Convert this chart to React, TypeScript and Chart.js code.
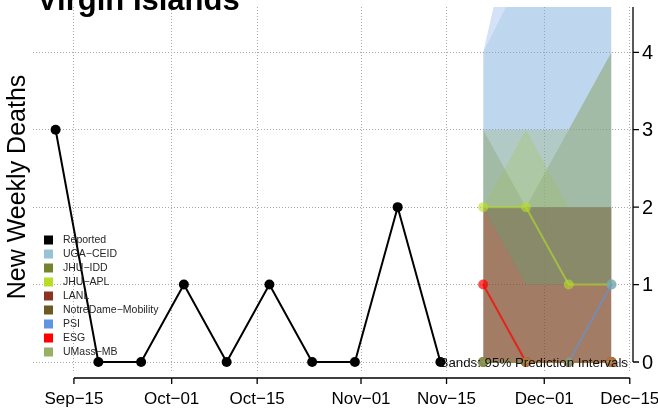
import React, { useEffect, useRef } from "react";
import { Chart, registerables } from "chart.js";

Chart.register(...registerables);

// ---------- text ----------
const TITLE = "Virgin Islands";
const Y_LABEL = "New Weekly Deaths";
const BAND_NOTE = "Bands: 95% Prediction Intervals";

// ---------- axes ----------
const ORIGIN_DATE = "2020-09-15";
const X_MIN_DAY = -6.7;
const X_MAX_DAY = 91.2;
const Y_MIN = -0.142;
const Y_MAX = 4.585;
const X_TICK_DATES = ["2020-09-15", "2020-10-01", "2020-10-15", "2020-11-01", "2020-11-15", "2020-12-01", "2020-12-15"];
const X_TICK_LABELS = ["Sep−15", "Oct−01", "Oct−15", "Nov−01", "Nov−15", "Dec−01", "Dec−15"];
const Y_TICKS = [0, 1, 2, 3, 4];

// ---------- reported ----------
const REPORTED_DATES = [
  "2020-09-12", "2020-09-19", "2020-09-26", "2020-10-03", "2020-10-10",
  "2020-10-17", "2020-10-24", "2020-10-31", "2020-11-07", "2020-11-14",
];
const REPORTED_VALUES = [3, 0, 0, 1, 0, 1, 0, 0, 2, 0];

// ---------- forecasts ----------
const FORECAST_DATES = ["2020-11-21", "2020-11-28", "2020-12-05", "2020-12-12"];

const MODEL_NAMES = ["UGA−CEID", "JHU−IDD", "JHU−APL", "LANL", "NotreDame−Mobility", "PSI", "ESG", "UMass−MB"];
const MODEL_COLORS = ["#96C4D4", "#74842E", "#B8DD26", "#8B3424", "#6C5A22", "#5E94E2", "#FF0000", "#98B066"];

const UGA_CEID_POINT = [0, 0, 0, 0];
const UGA_CEID_LOWER = [2, 1, 1, 1];
const UGA_CEID_UPPER = [4, 5.1, 7, 8];

const JHU_IDD_POINT = [0, 0, 0, 0];
const JHU_IDD_LOWER = [2, 1, 1, 1];
const JHU_IDD_UPPER = [3, 2, 3, 4];

const JHU_APL_POINT = [2, 2, 1, 1];
const JHU_APL_LOWER = [2, 1, 1, 1];
const JHU_APL_UPPER = [2, 3, 2, 2];

const LANL_POINT = [0, 0, 0, 0];
const LANL_LOWER = [0, 0, 0, 0];
const LANL_UPPER = [2, 2, 2, 2];

const NOTREDAME_POINT = [0, 0, 0, 0];
const NOTREDAME_LOWER = [0, 0, 0, 0];
const NOTREDAME_UPPER = [2, 2, 2, 2];

const PSI_POINT = [null, null, 0, 1];
const PSI_LOWER = [2, 1, 1, 1];
const PSI_UPPER = [4, 6.4, 9, 10];

const ESG_POINT = [1, 0, 0, 0];

const UMASS_MB_POINT = [0, 0, 0, 0];
const UMASS_MB_LOWER = [2, 1, 1, 1];
const UMASS_MB_UPPER = [3, 3, 3, 4];

// ---------- helpers ----------
const FONT = '"Liberation Sans", Arial, Helvetica, sans-serif';
const dayOf = (d: string) => (Date.parse(d) - Date.parse(ORIGIN_DATE)) / 86400000;

function rgba(hex: string, a: number) {
  const n = parseInt(hex.slice(1), 16);
  return `rgba(${(n >> 16) & 255},${(n >> 8) & 255},${n & 255},${a})`;
}

function series(dates: string[], values: (number | null)[]) {
  return dates.map((d, i) => ({ x: dayOf(d), y: values[i] }));
}

function bandPair(label: string, color: string, lower: number[], upper: number[], alpha: number, order: number) {
  const common = {
    borderColor: "rgba(0,0,0,0)",
    borderWidth: 0,
    pointRadius: 0,
    pointHoverRadius: 0,
    order,
  };
  return [
    { ...common, label: label + " lower", data: series(FORECAST_DATES, lower), fill: false },
    { ...common, label: label + " upper", data: series(FORECAST_DATES, upper), fill: "-1", backgroundColor: rgba(color, alpha) },
  ];
}

function forecastLine(label: string, color: string, values: (number | null)[], alpha: number, order: number) {
  return {
    label,
    data: series(FORECAST_DATES, values),
    borderColor: rgba(color, alpha),
    backgroundColor: rgba(color, alpha),
    pointBackgroundColor: rgba(color, alpha),
    pointBorderWidth: 0,
    pointRadius: 5,
    borderWidth: 2,
    borderCapStyle: "round",
    borderJoinStyle: "round",
    fill: false,
    order,
  };
}

const decorPlugin = {
  id: "decor",
  afterDraw(chart: any) {
    const { ctx, chartArea, scales } = chart;
    const xs = scales.x;
    const ys = scales.y;
    ctx.save();
    ctx.fillStyle = "#000";
    ctx.strokeStyle = "#000";
    ctx.lineWidth = 1.3;
    ctx.lineCap = "butt";

    // bottom axis
    const tickDays = X_TICK_DATES.map(dayOf);
    const axisY = chartArea.bottom + 5;
    ctx.beginPath();
    ctx.moveTo(xs.getPixelForValue(tickDays[0]), axisY);
    ctx.lineTo(xs.getPixelForValue(tickDays[tickDays.length - 1]), axisY);
    tickDays.forEach((d) => {
      const px = xs.getPixelForValue(d);
      ctx.moveTo(px, axisY);
      ctx.lineTo(px, axisY + 6);
    });
    ctx.stroke();
    ctx.font = `17px ${FONT}`;
    ctx.textAlign = "center";
    ctx.textBaseline = "middle";
    tickDays.forEach((d, i) => ctx.fillText(X_TICK_LABELS[i], xs.getPixelForValue(d), axisY + 21));

    // right axis
    const axisX = chartArea.right + 2;
    ctx.beginPath();
    ctx.moveTo(axisX, ys.getPixelForValue(Y_TICKS[0]));
    ctx.lineTo(axisX, chartArea.top);
    Y_TICKS.forEach((v) => {
      const py = ys.getPixelForValue(v);
      ctx.moveTo(axisX, py);
      ctx.lineTo(axisX + 6, py);
    });
    ctx.stroke();
    ctx.font = `20px ${FONT}`;
    ctx.textAlign = "left";
    Y_TICKS.forEach((v) => ctx.fillText(String(v), axisX + 9, ys.getPixelForValue(v) + 1));

    // title
    ctx.font = `bold 31px ${FONT}`;
    ctx.textAlign = "left";
    ctx.textBaseline = "alphabetic";
    ctx.fillText(TITLE, 37, 10);

    // y label
    ctx.save();
    ctx.translate(25, 187);
    ctx.rotate(-Math.PI / 2);
    ctx.font = `25px ${FONT}`;
    ctx.textAlign = "center";
    ctx.fillText(Y_LABEL, 0, 0);
    ctx.restore();

    // legend
    const names = ["Reported", ...MODEL_NAMES];
    const cols = ["#000000", ...MODEL_COLORS];
    ctx.font = `10.5px ${FONT}`;
    ctx.textBaseline = "middle";
    names.forEach((n, i) => {
      const cy = 240 + i * 14;
      ctx.fillStyle = cols[i];
      ctx.fillRect(44, cy - 4.5, 9, 9);
      ctx.fillStyle = "#262626";
      ctx.fillText(n, 63, cy + 0.5);
    });

    // band note
    ctx.fillStyle = "#111";
    ctx.font = `13.3px ${FONT}`;
    ctx.textAlign = "right";
    ctx.textBaseline = "alphabetic";
    ctx.fillText(BAND_NOTE, chartArea.right - 3, ys.getPixelForValue(0) + 4.5);
    ctx.restore();
  },
};

export default function App() {
  const ref = useRef<HTMLCanvasElement | null>(null);

  useEffect(() => {
    if (!ref.current) return;
    const BA = 0.27;
    const datasets: any[] = [
      {
        label: "Reported",
        data: series(REPORTED_DATES, REPORTED_VALUES),
        borderColor: "#000",
        backgroundColor: "#000",
        pointBackgroundColor: "#000",
        pointBorderWidth: 0,
        pointRadius: 5,
        borderWidth: 2,
        borderCapStyle: "round",
        borderJoinStyle: "round",
        fill: false,
        order: 0,
      },
      ...bandPair(MODEL_NAMES[0], MODEL_COLORS[0], UGA_CEID_LOWER, UGA_CEID_UPPER, BA, 90),
      ...bandPair(MODEL_NAMES[1], MODEL_COLORS[1], JHU_IDD_LOWER, JHU_IDD_UPPER, 0.3, 89),
      ...bandPair(MODEL_NAMES[2], MODEL_COLORS[2], JHU_APL_LOWER, JHU_APL_UPPER, 0.3, 88),
      ...bandPair(MODEL_NAMES[3], MODEL_COLORS[3], LANL_LOWER, LANL_UPPER, 0.55, 87),
      ...bandPair(MODEL_NAMES[4], MODEL_COLORS[4], NOTREDAME_LOWER, NOTREDAME_UPPER, 0.35, 86),
      ...bandPair(MODEL_NAMES[5], MODEL_COLORS[5], PSI_LOWER, PSI_UPPER, BA, 85),
      ...bandPair(MODEL_NAMES[7], MODEL_COLORS[7], UMASS_MB_LOWER, UMASS_MB_UPPER, 0.3, 83),
      forecastLine(MODEL_NAMES[0], MODEL_COLORS[0], UGA_CEID_POINT, 0.6, 20),
      forecastLine(MODEL_NAMES[1], MODEL_COLORS[1], JHU_IDD_POINT, 0.6, 19),
      forecastLine(MODEL_NAMES[3], MODEL_COLORS[3], LANL_POINT, 0.6, 18),
      forecastLine(MODEL_NAMES[4], MODEL_COLORS[4], NOTREDAME_POINT, 0.6, 17),
      forecastLine(MODEL_NAMES[6], MODEL_COLORS[6], ESG_POINT, 0.7, 16),
      forecastLine(MODEL_NAMES[2], MODEL_COLORS[2], JHU_APL_POINT, 0.6, 15),
      forecastLine(MODEL_NAMES[5], MODEL_COLORS[5], PSI_POINT, 0.6, 14),
      forecastLine(MODEL_NAMES[7], MODEL_COLORS[7], UMASS_MB_POINT, 0.6, 13),
    ];

    const gridCommon = {
      color: "#a8a8a8",
      lineWidth: 1,
      drawTicks: false,
    };

    const chart = new Chart(ref.current, {
      type: "line",
      data: { datasets },
      options: {
        animation: false,
        responsive: false,
        events: [],
        layout: { padding: { left: 33, top: 7, right: 27, bottom: 39 } },
        plugins: {
          legend: { display: false },
          tooltip: { enabled: false },
          filler: { drawTime: "beforeDatasetsDraw" },
        },
        scales: {
          x: {
            type: "linear",
            min: X_MIN_DAY,
            max: X_MAX_DAY,
            ticks: { display: false },
            grid: gridCommon,
            border: { display: false, dash: [1, 2] },
            afterBuildTicks: (s: any) => {
              s.ticks = X_TICK_DATES.map((d) => ({ value: dayOf(d) }));
            },
            afterFit: (s: any) => {
              s.height = 0;
            },
          },
          y: {
            type: "linear",
            position: "right",
            min: Y_MIN,
            max: Y_MAX,
            ticks: { display: false },
            grid: gridCommon,
            border: { display: false, dash: [1, 2] },
            afterBuildTicks: (s: any) => {
              s.ticks = Y_TICKS.map((v) => ({ value: v }));
            },
            afterFit: (s: any) => {
              s.width = 0;
            },
          },
        },
      } as any,
      plugins: [decorPlugin],
    });
    return () => chart.destroy();
  }, []);

  return (
    <div style={{ position: "fixed", left: 0, top: 0, width: 658, height: 412, background: "#fff" }}>
      <canvas ref={ref} width={658} height={412} style={{ display: "block" }} />
    </div>
  );
}
